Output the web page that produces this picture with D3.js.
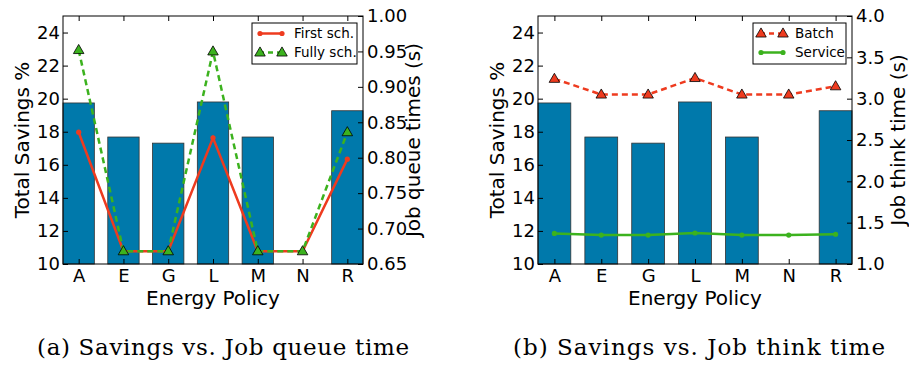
<!DOCTYPE html>
<html>
<head>
<meta charset="utf-8">
<script src="https://cdn.jsdelivr.net/npm/d3@7/dist/d3.min.js"></script>
<style>
  body { margin: 0; background: #fff; }
  svg text { font-family: "DejaVu Sans", sans-serif; fill: #000; }
  svg text.caption { font-family: "DejaVu Serif", serif; }
</style>
</head>
<body>
<div id="chart"></div>
<script>
// values
const policies = ['A', 'E', 'G', 'L', 'M', 'N', 'R']
const savings = [19.74, 17.68, 17.31, 19.80, 17.68, 0, 19.27]
const savingsTicks = [10, 12, 14, 16, 18, 20, 22, 24]

const firstSch = [0.836, 0.668, 0.668, 0.828, 0.668, 0.668, 0.798]
const fullySch = [0.952, 0.668, 0.668, 0.950, 0.668, 0.668, 0.836]
const queueTicks = [0.65, 0.70, 0.75, 0.80, 0.85, 0.90, 0.95, 1.00]

const batchThink = [3.24, 3.05, 3.05, 3.25, 3.05, 3.05, 3.15]
const serviceThink = [1.37, 1.35, 1.35, 1.375, 1.35, 1.35, 1.36]
const thinkTicks = [1.0, 1.5, 2.0, 2.5, 3.0, 3.5, 4.0]

const captions = ['(a) Savings vs. Job queue time', '(b) Savings vs. Job think time']

let width = 909
let height = 365
let svg = d3.select('#chart').append('svg')
  .attr('width', width)
  .attr('height', height)

const RED = '#ee3b1f'
const GREEN = '#3cb21e'
const BAR = '#0079ab'

function drawPanel(p){
  let g = svg.append('g')
  let x = d3.scaleLinear().domain([-0.35, 6.35]).range([p.left, p.right])
  let y = d3.scaleLinear().domain([10, 25]).range([p.bottom, p.top])
  let y2 = d3.scaleLinear().domain(p.rDomain).range([p.bottom, p.top])

  // right axis title goes first so the tick labels sit over it
  g.append('text')
    .attr('transform', `translate(${p.right + p.rLabelOff},140) rotate(-90)`)
    .attr('text-anchor', 'middle').attr('font-size', 20)
    .text(p.rLabel)

  // bars
  g.selectAll('rect.bar')
    .data(savings)
    .enter()
    .append('rect')
    .attr('class', 'bar')
    .attr('x', (d, i) => x(i - 0.35))
    .attr('width', x(0.7) - x(0))
    .attr('y', d => y(Math.max(d, 10)))
    .attr('height', d => p.bottom - y(Math.max(d, 10)))
    .attr('fill', BAR)
    .attr('stroke', '#333')
    .attr('stroke-width', 0.8)

  // lines
  p.series.forEach(s => {
    let line = d3.line().x((d, i) => x(i)).y(d => y2(d))
    g.append('path')
      .attr('d', line(s.values))
      .attr('fill', 'none')
      .attr('stroke', s.color)
      .attr('stroke-width', 2.5)
      .attr('stroke-dasharray', s.dashed ? '6,4' : null)
    drawMarkers(g, s, s.values.map((d, i) => [x(i), y2(d)]))
  })

  // frame
  g.append('rect')
    .attr('x', p.left).attr('y', p.top)
    .attr('width', p.right - p.left).attr('height', p.bottom - p.top)
    .attr('fill', 'none').attr('stroke', '#000').attr('stroke-width', 1)

  // axes, ticks pointing inwards
  let ax = d3.axisBottom(x).tickValues(d3.range(policies.length)).tickFormat(i => policies[i])
    .tickSizeInner(-5).tickSizeOuter(0).tickPadding(5)
  let axB = g.append('g').attr('transform', `translate(0,${p.bottom})`).call(ax)
  let axT = g.append('g').attr('transform', `translate(0,${p.top})`)
    .call(d3.axisTop(x).tickValues(d3.range(policies.length)).tickSize(-5).tickSizeOuter(0).tickFormat(''))
  let axL = g.append('g').attr('transform', `translate(${p.left},0)`)
    .call(d3.axisLeft(y).tickValues(savingsTicks).tickSizeInner(-5).tickSizeOuter(0).tickPadding(3))
  let axR = g.append('g').attr('transform', `translate(${p.right},0)`)
    .call(d3.axisRight(y2).tickValues(p.rTicks).tickFormat(p.rFormat).tickSizeInner(-5).tickSizeOuter(0).tickPadding(4))
  ;[axB, axT, axL, axR].forEach(a => {
    a.select('.domain').remove()
    a.selectAll('line').attr('stroke', '#000')
    a.selectAll('text').attr('font-size', 18).attr('font-family', '"DejaVu Sans", sans-serif')
  })

  // axis titles
  g.append('text')
    .attr('x', (p.left + p.right) / 2).attr('y', 305)
    .attr('text-anchor', 'middle').attr('font-size', 20)
    .text('Energy Policy')
  g.append('text')
    .attr('transform', `translate(${p.left - 34},140) rotate(-90)`)
    .attr('text-anchor', 'middle').attr('font-size', 20)
    .text('Total Savings %')

  // legend
  let lg = g.append('g').attr('transform', `translate(${p.legX},23)`)
  lg.append('rect').attr('width', p.legW).attr('height', 41)
    .attr('fill', '#fff').attr('stroke', '#000').attr('stroke-width', 1)
  p.series.forEach((s, k) => {
    let ly = 10.5 + k * 19
    lg.append('line').attr('x1', 7).attr('x2', 31).attr('y1', ly).attr('y2', ly)
      .attr('stroke', s.color).attr('stroke-width', 2.5)
      .attr('stroke-dasharray', s.dashed ? '5,4' : null)
    drawMarkers(lg, s, [[8, ly], [30, ly]])
    lg.append('text').attr('x', 42).attr('y', ly).attr('dy', '0.35em')
      .attr('font-size', 13.5).text(s.name)
  })

  svg.append('text').attr('class', 'caption')
    .attr('x', p.capX).attr('y', 355)
    .attr('text-anchor', 'middle').attr('font-size', 23)
    .attr('textLength', 372).attr('lengthAdjust', 'spacing')
    .text(p.caption)
}

function drawMarkers(g, s, pts){
  if (s.marker === 'tri') {
    g.selectAll(null).data(pts).enter().append('path')
      .attr('d', d3.symbol().type(d3.symbolTriangle).size(48))
      .attr('transform', d => `translate(${d[0]},${d[1] + 0.5})`)
      .attr('fill', s.color).attr('stroke', '#000').attr('stroke-width', 0.8)
  } else {
    g.selectAll(null).data(pts).enter().append('circle')
      .attr('cx', d => d[0]).attr('cy', d => d[1]).attr('r', 2.6)
      .attr('fill', s.color)
  }
}

drawPanel({
  left: 63, right: 363, top: 16, bottom: 264,
  rDomain: [0.65, 1.0], rTicks: queueTicks, rFormat: d3.format('.2f'),
  rLabel: 'Job queue times (s)', rLabelOff: 57,
  legX: 252, legW: 105, capX: 223, caption: captions[0],
  series: [
    { name: 'First sch.', values: firstSch, color: RED, marker: 'dot', dashed: false },
    { name: 'Fully sch.', values: fullySch, color: GREEN, marker: 'tri', dashed: true }
  ]
})

drawPanel({
  left: 538, right: 852, top: 16, bottom: 264,
  rDomain: [1.0, 4.0], rTicks: thinkTicks, rFormat: d3.format('.1f'),
  rLabel: 'Job think time (s)', rLabelOff: 53,
  legX: 753, legW: 93, capX: 699, caption: captions[1],
  series: [
    { name: 'Batch', values: batchThink, color: RED, marker: 'tri', dashed: true },
    { name: 'Service', values: serviceThink, color: GREEN, marker: 'dot', dashed: false }
  ]
})
</script>
</body>
</html>
